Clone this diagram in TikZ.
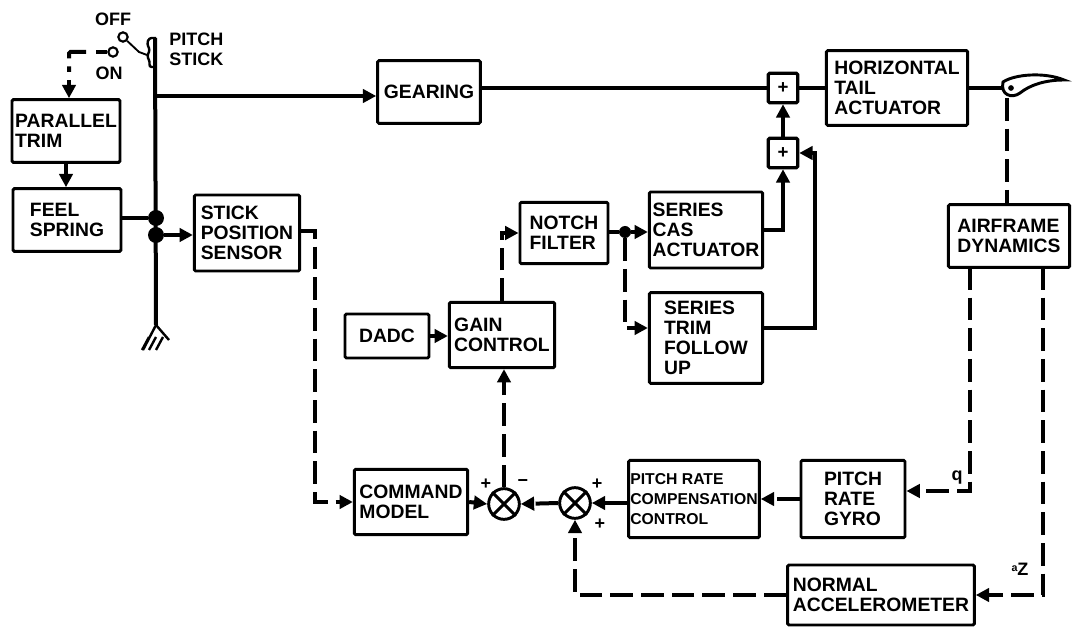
\documentclass[tikz,border=0pt]{standalone}
\usepackage{fontspec}
\setmainfont{Liberation Sans}
\usetikzlibrary{shapes,arrows.meta,calc}

\tikzset{
  blockbox/.style={draw,line width=2.2pt,rounded corners=1pt,align=left,inner sep=0pt,font=\fontsize{14.5}{15}\selectfont\bfseries},
  plusbox/.style={draw,line width=2.4pt,rounded corners=1pt,minimum width=22pt,minimum height=22pt,inner sep=0pt,font=\fontsize{14}{15}\selectfont\bfseries},
  sumnode/.style={circle,draw,line width=2.2pt,minimum size=23pt,inner sep=0pt},
  joint/.style={circle,fill=black,minimum size=12pt,inner sep=0pt},
  contact/.style={circle,draw,line width=1.6pt,minimum size=7pt,inner sep=0pt},
  tag/.style={inner sep=0pt,font=\fontsize{13.5}{15}\selectfont\bfseries,align=left},
  solidline/.style={line width=3pt},
  dashline/.style={line width=3pt,dash pattern=on 17pt off 6pt},
  tip/.style={-{Triangle[width=10pt,length=10pt]}},
}

\begin{document}
\begin{tikzpicture}[x=0.75pt,y=-0.75pt]
  \useasboundingbox (0,0) rectangle (1075,627);
  % blocks
  \node[blockbox,minimum width=81pt,minimum height=47pt] (partrim) at (66,131) {PARALLEL\\TRIM};
  \node[blockbox,minimum width=81pt,minimum height=47pt] (feel) at (67,220) {FEEL\\SPRING};
  \node[blockbox,minimum width=79pt,minimum height=57pt] (sensor) at (247,233) {STICK\\POSITION\\SENSOR};
  \node[blockbox,minimum width=77pt,minimum height=47pt] (gearing) at (429,92) {GEARING};
  \node[plusbox] (plusa) at (783,88) {+};
  \node[plusbox] (plusb) at (783,153) {+};
  \node[blockbox,minimum width=106pt,minimum height=56pt] (tailact) at (897,88) {HORIZONTAL\\TAIL\\ACTUATOR};
  \node[blockbox,minimum width=91pt,minimum height=47pt] (airframe) at (1009,236) {AIRFRAME\\DYNAMICS};
  \node[blockbox,minimum width=66pt,minimum height=46pt] (notch) at (564,233) {NOTCH\\FILTER};
  \node[blockbox,minimum width=85pt,minimum height=57pt] (cas) at (706,230) {SERIES\\CAS\\ACTUATOR};
  \node[blockbox,minimum width=85pt,minimum height=68pt] (trim) at (706,338) {SERIES\\TRIM\\FOLLOW\\UP};
  \node[blockbox,minimum width=63pt,minimum height=33pt] (dadc) at (387,336) {DADC};
  \node[blockbox,minimum width=79pt,minimum height=49pt] (gain) at (502,335) {GAIN\\CONTROL};
  \node[blockbox,minimum width=85pt,minimum height=49pt] (command) at (411,502) {COMMAND\\MODEL};
  \node[blockbox,minimum width=98pt,minimum height=58pt,font=\fontsize{11.8}{15}\selectfont\bfseries] (comp) at (694,499) {PITCH RATE\\COMPENSATION\\CONTROL};
  \node[blockbox,minimum width=78pt,minimum height=58pt] (gyro) at (853,499) {PITCH\\RATE\\GYRO};
  \node[blockbox,minimum width=140pt,minimum height=45pt] (normal) at (881,595) {NORMAL\\ACCELEROMETER};
  \node[sumnode] (suma) at (504,504) {};
  \node[sumnode] (sumb) at (575,503) {};
  \foreach \sumname in {suma,sumb} {
    \draw[line width=2.2pt] (\sumname.45) -- (\sumname.225);
    \draw[line width=2.2pt] (\sumname.135) -- (\sumname.315);
  }
  % stick and switch
  \node[contact] (offpin) at (123,37) {};
  \node[contact] (onpin) at (113,52) {};
  \coordinate (sticktop) at (155,38);
  \coordinate (stickfoot) at (156,325);
  \coordinate (stickgear) at (156,96);
  \coordinate (gripin) at (147,55);
  \node[joint] (jfeel) at (156,218) {};
  \node[joint] (jsens) at (156,235) {};
  \draw[solidline] (sticktop) -- (stickfoot);
  \draw[line width=1.8pt,rounded corners=2pt] (156,38) -- (149,38) -- (147,44) -- (150,50) -- (147,56) -- (150,62) -- (149,67) -- (156,67);
  \draw[line width=1.4pt] (offpin) -- (139,52) -- (gripin);
  \draw[line width=1.8pt] (stickfoot) -- (143,350);
  \draw[line width=1.8pt] (stickfoot) -- (169,340);
  \foreach \hx in {149,156,163} {
    \draw[line width=1.8pt] (\hx,337) -- ++(-7,13);
  }
  % solid links
  \draw[solidline,tip] (stickgear) -- (gearing.west |- stickgear);
  \draw[solidline,tip] (partrim.south) -- (partrim.south |- feel.north);
  \draw[solidline] (feel.east |- jfeel) -- (jfeel);
  \draw[solidline,tip] (jsens) -- (sensor.west |- jsens);
  \draw[solidline] (gearing.east |- plusa) -- (plusa.west);
  \draw[solidline] (plusa.east) -- (tailact.west |- plusa);
  \draw[solidline,tip] (plusb.north) -- (plusa.south);
  \draw[solidline,tip] (dadc.east) -- (gain.west |- dadc);
  \node[joint,minimum size=9pt] (jnotch) at (625,232) {};
  \draw[solidline] (notch.east |- jnotch) -- (jnotch);
  \draw[solidline,tip] (jnotch) -- (cas.west |- jnotch);
  \draw[solidline,tip] (cas.east) -| (plusb.south);
  \draw[solidline,tip] (trim.east |- 815,328) -- (815,328) |- (plusb.east);
  % tail surface
  \coordinate (tailhinge) at (1007,88);
  \draw[solidline] (tailact.east |- tailhinge) -- (tailhinge);
  \draw[line width=2.2pt,fill=white] (1003,82) .. controls (1015,74) and (1045,72) .. (1064,80) .. controls (1045,80) and (1030,85) .. (1020,93) .. controls (1012,99) and (1000,95) .. (1003,82) -- cycle;
  \draw[fill=black] (1011,88) circle (2.5);
  % dashed links
  \coordinate (onbend) at (69,52);
  \draw[dashline] (onpin) -- (96,52);
  \draw[dashline,rounded corners=1pt] (86,52) -- (onbend) -- (69,72);
  \draw[dashline,tip] (69,80) -- (partrim.north -| onbend);
  \coordinate (sensorout) at (300,231);
  \draw[dashline,tip] (sensorout) -- (315,231) |- (command.west);
  \draw[dashline,tip] (command.east) -- (suma.west);
  \draw[dashline,tip] (sumb.west) -- (suma.east);
  \draw[dashline,tip] (comp.west |- sumb) -- (sumb.east);
  \draw[dashline,tip] (gyro.west) -- (comp.east |- gyro);
  \coordinate (airq) at (970,267);
  \coordinate (airz) at (1043,267);
  \draw[dashline,tip] (airq) -- (970,491) -- (gyro.east |- 970,491);
  \draw[dashline,tip] (airz) |- (normal.east);
  \draw[dashline,tip] (normal.west) -| (sumb.south);
  \draw[dashline,tip] (suma.north) -- (suma.north |- gain.south);
  \draw[dashline,tip] (gain.north) -- (gain.north |- notch.west) -- (notch.west);
  \draw[dashline,tip] (jnotch) |- (trim.west |- 625,328);
  \draw[dashline] (1007,98) -- (airframe.north -| 1007,98);
  % labels
  \node[tag] (offtag) at (113,19) {OFF};
  \node[tag] (ontag) at (109,73) {ON};
  \node[tag,anchor=north west] (sticktag) at (169,33) {PITCH\\STICK};
  \node[tag] (qtag) at (957,478) {q};
  \node[tag] (aztag) at (1020,569) {\raisebox{3pt}{\footnotesize a}Z};
  \node[tag] (plusone) at (486,484) {+};
  \node[tag] (minusone) at (523,483) {\textminus};
  \node[tag] (plustwo) at (597,484) {+};
  \node[tag] (plusthree) at (600,524) {+};
\end{tikzpicture}
\end{document}
